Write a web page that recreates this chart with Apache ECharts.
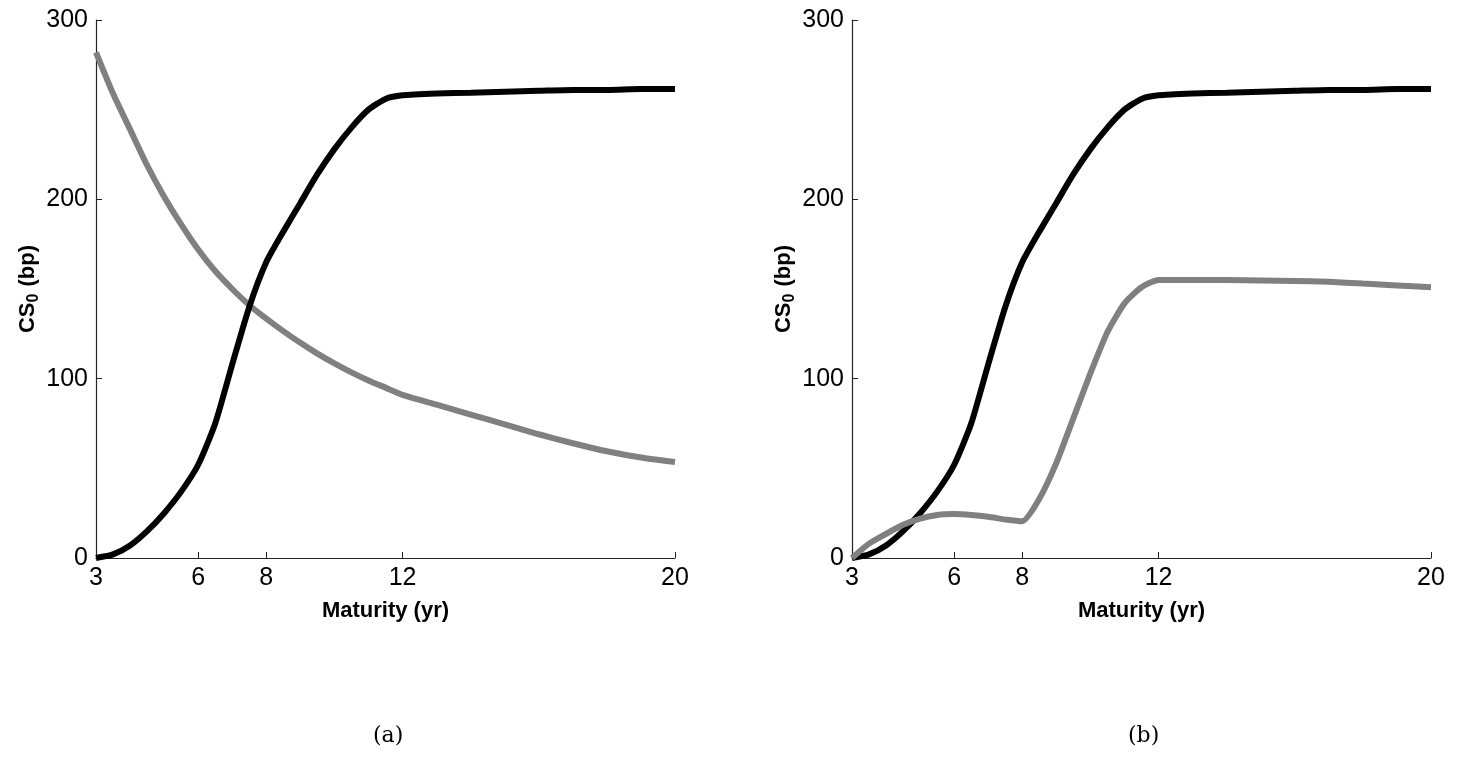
<!DOCTYPE html>
<html>
<head>
<meta charset="utf-8">
<script src="https://cdn.jsdelivr.net/npm/echarts@6/dist/echarts.min.js"></script>
<style>
  html, body { margin: 0; padding: 0; background: #fff; }
  #chart { width: 1462px; height: 774px; }
</style>
</head>
<body>
<div id="chart"></div>
<script>
// maturity grid (yr) and spreads (bp)
const maturity = [3, 3.5, 4, 4.5, 5, 5.5, 6, 6.5, 7, 7.5, 8, 8.5, 9, 9.5, 10, 10.5, 11, 11.5, 12, 13, 14, 15, 16, 17, 18, 19, 20]

// black curve, same in both panels
const blackCurve = [0, 2, 7, 15, 25, 37, 52, 75, 108, 140, 165, 182, 198, 214, 228, 240, 250, 256, 258, 259, 259.5, 260, 260.5, 261, 261, 261.5, 261.5]

// grey curve, panel (a)
const greyA = [282, 259, 239, 219, 201.5, 186, 172, 160, 150, 141, 133.5, 126.5, 120, 114, 108.5, 103.5, 99, 95, 91, 85.5, 80, 74.5, 69, 64, 59.5, 56, 53.5]

// grey curve, panel (b)
const greyB = [0, 8, 13.5, 18.5, 22, 24, 24.5, 24, 23, 21.5, 20.5, 33, 53, 78, 103, 126, 142, 151, 155, 155, 155, 154.8, 154.5, 154, 153, 152, 151]

const xTicks = [3, 6, 8, 12, 20]
const captions = ['(a)', '(b)']

const chart = echarts.init(document.getElementById('chart'))

const pairs = arr => maturity.map((m, i) => [m, arr[i]])

const fontFamily = '"Liberation Sans", Arial, sans-serif'

function xAxisFor(idx) {
  return {
    gridIndex: idx,
    type: 'value',
    min: 3,
    max: 20,
    name: 'Maturity (yr)',
    nameLocation: 'middle',
    nameGap: 42,
    nameTextStyle: { fontFamily, fontSize: 22, fontWeight: 'bold', color: '#000' },
    axisLine: { lineStyle: { color: '#222', width: 1.2 } },
    axisTick: { inside: true, length: 6, customValues: xTicks, lineStyle: { color: '#222' } },
    axisLabel: { customValues: xTicks, fontFamily, fontSize: 25, color: '#000', margin: 8 },
    splitLine: { show: false }
  }
}

function yAxisFor(idx) {
  return {
    gridIndex: idx,
    type: 'value',
    min: 0,
    max: 300,
    interval: 100,
    name: '{a|CS}{s|0}{a| (bp)}',
    nameLocation: 'middle',
    nameGap: 55,
    nameTextStyle: {
      rich: {
        a: { fontFamily, fontSize: 22, fontWeight: 'bold', color: '#000', lineHeight: 26 },
        s: { fontFamily, fontSize: 16, fontWeight: 'bold', color: '#000', lineHeight: 26, padding: [11, 1, 0, 0] }
      }
    },
    axisLine: { show: true, lineStyle: { color: '#222', width: 1.2 } },
    axisTick: { inside: true, length: 6, lineStyle: { color: '#222' } },
    axisLabel: { fontFamily, fontSize: 25, color: '#000', margin: 8 },
    splitLine: { show: false }
  }
}

function line(name, arr, color, idx, z) {
  return {
    name,
    type: 'line',
    xAxisIndex: idx,
    yAxisIndex: idx,
    data: pairs(arr),
    showSymbol: false,
    smooth: 0.2,
    z,
    lineStyle: { color, width: 6 },
    itemStyle: { color }
  }
}

chart.setOption({
  animation: false,
  backgroundColor: '#fff',
  grid: [
    { left: 96, top: 20, width: 579, height: 538 },
    { left: 852, top: 20, width: 579, height: 538 }
  ],
  xAxis: [xAxisFor(0), xAxisFor(1)],
  yAxis: [yAxisFor(0), yAxisFor(1)],
  series: [
    line('black a', blackCurve, '#000', 0, 3),
    line('grey a', greyA, '#808080', 0, 2),
    line('black b', blackCurve, '#000', 1, 2),
    line('grey b', greyB, '#808080', 1, 3)
  ],
  graphic: [
    { type: 'text', left: 373, top: 725, style: { text: captions[0], font: '22px "DejaVu Serif", "Liberation Serif", serif', fill: '#000' } },
    { type: 'text', left: 1128, top: 725, style: { text: captions[1], font: '22px "DejaVu Serif", "Liberation Serif", serif', fill: '#000' } }
  ]
})
</script>
</body>
</html>
